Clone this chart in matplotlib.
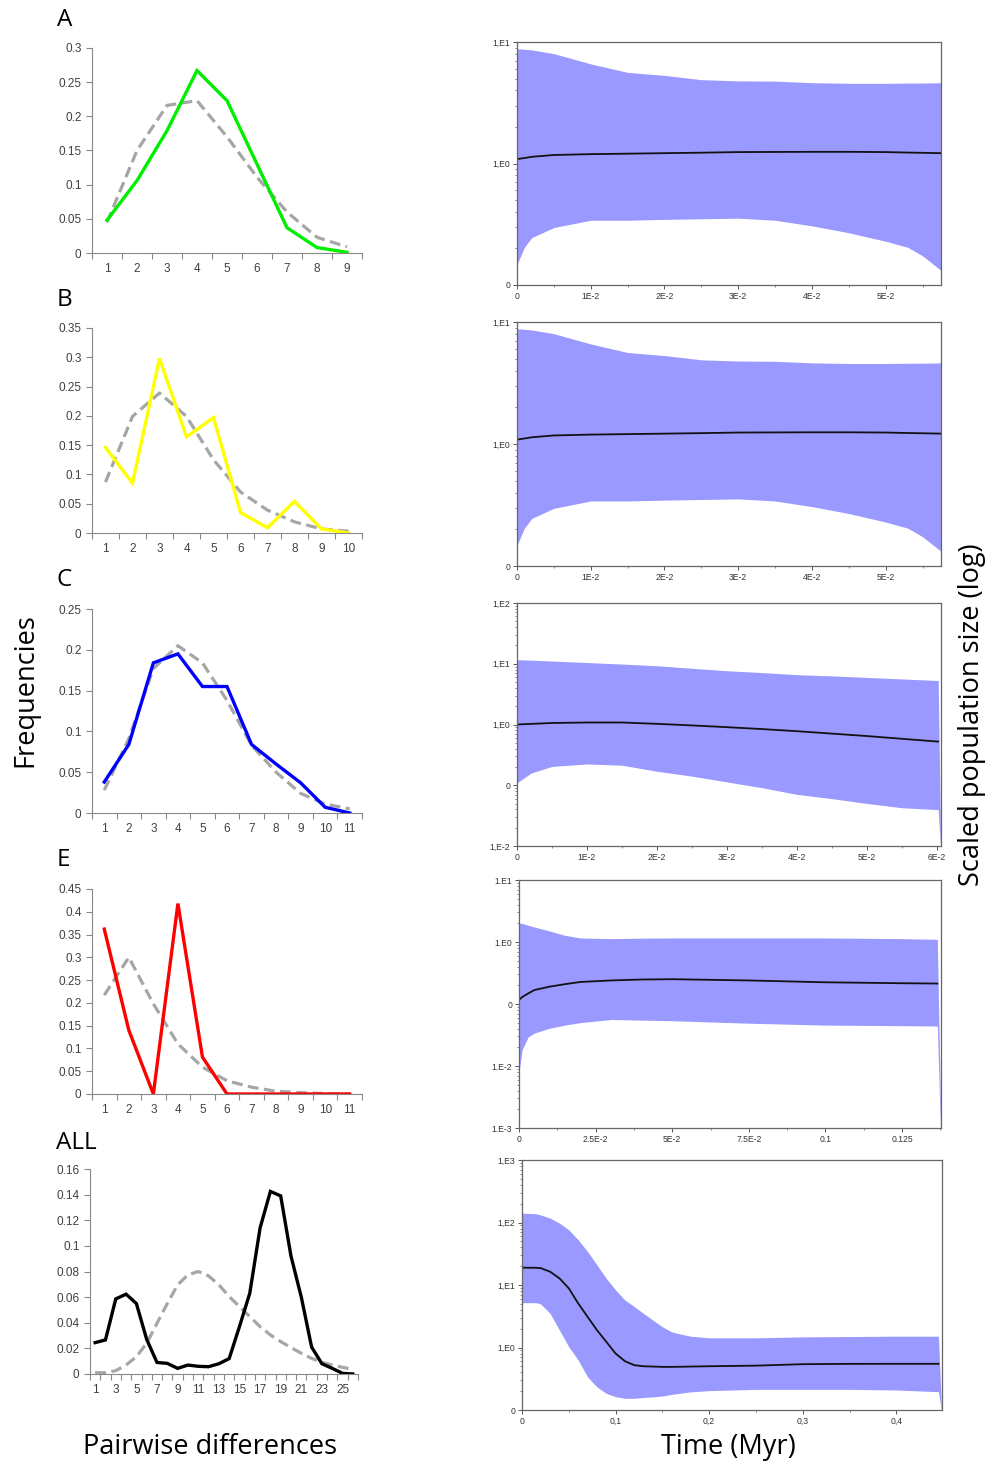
import numpy as np
import matplotlib
matplotlib.use("Agg")
import matplotlib.pyplot as plt

# ---- mismatch distributions (left column) ----
a_obs = [0.048, 0.106, 0.179, 0.267, 0.223, 0.13, 0.037, 0.008, 0.001]
a_exp = [0.045, 0.15, 0.216, 0.223, 0.17, 0.111, 0.06, 0.023, 0.009]

b_obs = [0.146, 0.085, 0.298, 0.164, 0.197, 0.035, 0.009, 0.054, 0.007, 0.0]
b_exp = [0.087, 0.199, 0.239, 0.199, 0.125, 0.07, 0.039, 0.019, 0.007, 0.003]

c_obs = [0.038, 0.084, 0.184, 0.195, 0.155, 0.155, 0.084, 0.06, 0.037, 0.007, 0.0]
c_exp = [0.028, 0.091, 0.177, 0.205, 0.184, 0.138, 0.083, 0.05, 0.024, 0.011, 0.005]

e_obs = [0.362, 0.14, 0.0, 0.418, 0.081, 0.0, 0.0, 0.0, 0.0, 0.0, 0.0]
e_exp = [0.217, 0.3, 0.198, 0.11, 0.059, 0.029, 0.015, 0.006, 0.003, 0.001, 0.0]

all_obs = [0.0245, 0.0266, 0.0586, 0.0623, 0.055, 0.027, 0.009, 0.0083, 0.0044, 0.007,
           0.006, 0.0057, 0.008, 0.012, 0.037, 0.063, 0.114, 0.1425, 0.139, 0.092,
           0.06, 0.021, 0.008, 0.0044, 0.0005, 0.0]
all_exp = [0.001, 0.001, 0.0026, 0.007, 0.0135, 0.024, 0.0396, 0.055, 0.0696, 0.0774,
           0.08, 0.0766, 0.0696, 0.0605, 0.0526, 0.0448, 0.037, 0.0305, 0.0253, 0.0206,
           0.0162, 0.0122, 0.0091, 0.007, 0.0052, 0.0036]

a_yticks = [0, 0.05, 0.1, 0.15, 0.2, 0.25, 0.3]
b_yticks = [0, 0.05, 0.1, 0.15, 0.2, 0.25, 0.3, 0.35]
c_yticks = [0, 0.05, 0.1, 0.15, 0.2, 0.25]
e_yticks = [0, 0.05, 0.1, 0.15, 0.2, 0.25, 0.3, 0.35, 0.4, 0.45]
all_yticks = [0, 0.02, 0.04, 0.06, 0.08, 0.1, 0.12, 0.14, 0.16]

# ---- Bayesian skyline plots (right column), log10 of population size ----
sa_t = [0, 0.001, 0.002, 0.005, 0.01, 0.015, 0.02, 0.025, 0.03, 0.035, 0.04, 0.045,
        0.05, 0.053, 0.055, 0.0575]
sa_med = [0.036, 0.045, 0.055, 0.07, 0.077, 0.081, 0.085, 0.089, 0.094, 0.095, 0.096,
          0.096, 0.094, 0.09, 0.088, 0.085]
sa_hi = [0.945, 0.94, 0.935, 0.904, 0.82, 0.75, 0.725, 0.69, 0.68, 0.678, 0.665, 0.66,
         0.66, 0.662, 0.662, 0.665]
sa_lo = [-0.83, -0.69, -0.61, -0.527, -0.467, -0.467, -0.46, -0.455, -0.45, -0.467,
         -0.513, -0.57, -0.64, -0.69, -0.76, -0.88]

# panel B skyline is the same run as A in the figure
sb_t, sb_med, sb_hi, sb_lo = sa_t, sa_med, sa_hi, sa_lo

sc_t = [0, 0.002, 0.005, 0.01, 0.015, 0.02, 0.025, 0.03, 0.035, 0.04, 0.045, 0.05,
        0.055, 0.06, 0.0602, 0.0605]
sc_med = [0, 0.01, 0.025, 0.033, 0.033, 0.011, -0.015, -0.044, -0.075, -0.11, -0.15,
          -0.19, -0.235, -0.28, -0.28, np.nan]
sc_hi = [1.066, 1.06, 1.045, 1.02, 0.995, 0.967, 0.925, 0.885, 0.855, 0.82, 0.8, 0.775,
         0.75, 0.725, 0.725, -1.6]
sc_lo = [-0.96, -0.8, -0.69, -0.65, -0.67, -0.77, -0.85, -0.945, -1.04, -1.15, -1.22,
         -1.3, -1.37, -1.4, -1.4, -2.0]

se_t = [0, 0.001, 0.003, 0.005, 0.01, 0.015, 0.02, 0.03, 0.04, 0.05, 0.075, 0.1, 0.125,
        0.1365, 0.1375]
se_med = [-0.935, -0.89, -0.83, -0.775, -0.72, -0.68, -0.645, -0.62, -0.605, -0.6, -0.62,
          -0.65, -0.665, -0.67, np.nan]
se_hi = [0.306, 0.3, 0.27, 0.242, 0.177, 0.108, 0.065, 0.054, 0.062, 0.065, 0.065, 0.065,
         0.054, 0.043, -2.6]
se_lo = [-2.1, -1.74, -1.53, -1.47, -1.39, -1.34, -1.3, -1.25, -1.26, -1.27, -1.31, -1.34,
         -1.35, -1.355, -3.0]

sall_t = [0, 0.015, 0.02, 0.03, 0.04, 0.05, 0.06, 0.07, 0.08, 0.09, 0.1, 0.11, 0.12, 0.13,
          0.14, 0.15, 0.16, 0.17, 0.18, 0.2, 0.25, 0.3, 0.35, 0.4, 0.445, 0.448]
sall_med = [1.277, 1.275, 1.27, 1.213, 1.107, 0.947, 0.707, 0.493, 0.28, 0.093, -0.096,
            -0.219, -0.283, -0.3, -0.305, -0.31, -0.31, -0.308, -0.305, -0.3, -0.29,
            -0.267, -0.262, -0.261, -0.261, np.nan]
sall_hi = [2.15, 2.14, 2.12, 2.07, 1.99, 1.883, 1.723, 1.536, 1.323, 1.107, 0.92, 0.76,
           0.653, 0.544, 0.437, 0.331, 0.25, 0.213, 0.181, 0.155, 0.155, 0.17, 0.175,
           0.181, 0.181, -0.9]
sall_lo = [0.717, 0.717, 0.696, 0.547, 0.28, 0.01, -0.2, -0.47, -0.63, -0.733, -0.787,
           -0.813, -0.813, -0.8, -0.79, -0.776, -0.75, -0.73, -0.71, -0.69, -0.67, -0.67,
           -0.67, -0.68, -0.707, -1.0]

sa_ylabels = ["0", "1,E0", "1,E1"]            # log10 -1..1
sc_ylabels = ["1,E-2", "0", "1,E0", "1,E1", "1,E2"]   # -2..2
se_ylabels = ["1.E-3", "1.E-2", "0", "1.E0", "1.E1"]  # -3..1
sall_ylabels = ["0", "1,E0", "1,E1", "1,E2", "1,E3"]  # -1..3

sa_xticks = [0, 0.01, 0.02, 0.03, 0.04, 0.05]
sa_xlabels = ["0", "1E-2", "2E-2", "3E-2", "4E-2", "5E-2"]
sc_xticks = [0, 0.01, 0.02, 0.03, 0.04, 0.05, 0.06]
sc_xlabels = ["0", "1E-2", "2E-2", "3E-2", "4E-2", "5E-2", "6E-2"]
se_xticks = [0, 0.025, 0.05, 0.075, 0.1, 0.125]
se_xlabels = ["0", "2.5E-2", "5E-2", "7.5E-2", "0.1", "0.125"]
sall_xticks = [0, 0.1, 0.2, 0.3, 0.4]
sall_xlabels = ["0", "0,1", "0,2", "0,3", "0,4"]

W, H = 989, 1463
fig = plt.figure(figsize=(W / 100, H / 100), dpi=100)


def box(x0, y0, x1, y1):
    """pixel box (top-left origin) -> figure fraction rect"""
    return [x0 / W, 1 - y1 / H, (x1 - x0) / W, (y1 - y0) / H]


def mismatch(rect, obs, exp, color, yticks, label_step=1, lw=2.4):
    ax = fig.add_axes(rect)
    n = len(obs)
    x = np.arange(1, n + 1)
    ax.plot(x, exp, color="#a6a6a6", lw=2.3, dashes=(3.4, 1.7), solid_capstyle="butt")
    ax.plot(x, obs, color=color, lw=lw, solid_joinstyle="miter")
    ax.set_xlim(0.5, n + 0.5)
    ax.set_ylim(0, yticks[-1])
    ax.set_yticks(yticks)
    ax.set_yticklabels([f"{v:g}" for v in yticks])
    ax.set_xticks(x[::label_step])
    ax.set_xticklabels([str(v) for v in x[::label_step]])
    ax.set_xticks(np.arange(0.5, n + 1), minor=True)
    ax.tick_params(axis="x", which="major", length=0, pad=7)
    ax.tick_params(axis="x", which="minor", length=4, width=0.8, color="#888888", direction="out")
    ax.tick_params(axis="y", length=4, width=0.8, color="#888888", direction="out")
    ax.tick_params(labelsize=8.5, labelcolor="#404040")
    for s in ["top", "right"]:
        ax.spines[s].set_visible(False)
    for s in ["left", "bottom"]:
        ax.spines[s].set_color("#888888")
        ax.spines[s].set_linewidth(0.8)
    for lab in ax.get_xticklabels() + ax.get_yticklabels():
        lab.set_family("Liberation Sans")
    return ax


def skyline(rect, t, med, hi, lo, ylo, yhi, ylabels, xticks, xlabels, xmax, xminor):
    ax = fig.add_axes(rect)
    ax.fill_between(t, lo, hi, color="#9999ff", lw=0)
    ax.plot(t, med, color="#111111", lw=1.3)
    ax.set_xlim(0, xmax)
    ax.set_ylim(ylo, yhi)
    ax.set_yticks(np.arange(ylo, yhi + 1))
    ax.set_yticklabels(ylabels)
    minors = [d + np.log10(k) for d in range(ylo, yhi) for k in range(2, 10)]
    ax.set_yticks(minors, minor=True)
    ax.set_xticks(xticks)
    ax.set_xticklabels(xlabels)
    ax.set_xticks(np.arange(0, xmax, xminor), minor=True)
    ax.tick_params(which="major", length=3, width=0.7, labelsize=6.2, labelcolor="#333333",
                   color="#555555", pad=2)
    ax.tick_params(which="minor", length=1.6, width=0.5, color="#555555")
    for s in ax.spines.values():
        s.set_color("#666666")
        s.set_linewidth(0.9)
    for lab in ax.get_xticklabels() + ax.get_yticklabels():
        lab.set_family("Liberation Sans")
    return ax


mismatch(box(92, 48, 362, 253), a_obs, a_exp, "#00ee00", a_yticks)
mismatch(box(92, 328, 362, 533), b_obs, b_exp, "#ffff00", b_yticks)
mismatch(box(92, 609, 362, 813), c_obs, c_exp, "#0000ff", c_yticks)
mismatch(box(92, 889, 362, 1094), e_obs, e_exp, "#ff0000", e_yticks)
mismatch(box(90, 1169, 358, 1374), all_obs, all_exp, "#000000", all_yticks, label_step=2)

skyline(box(517, 42, 941, 285), sa_t, sa_med, sa_hi, sa_lo, -1, 1, sa_ylabels,
        sa_xticks, sa_xlabels, 0.0575, 0.005)
skyline(box(517, 322, 941, 566), sb_t, sb_med, sb_hi, sb_lo, -1, 1, sa_ylabels,
        sa_xticks, sa_xlabels, 0.0575, 0.005)
skyline(box(517, 603, 941, 846), sc_t, sc_med, sc_hi, sc_lo, -2, 2, sc_ylabels,
        sc_xticks, sc_xlabels, 0.0606, 0.005)
skyline(box(519, 880, 941, 1128), se_t, se_med, se_hi, se_lo, -3, 1, se_ylabels,
        se_xticks, se_xlabels, 0.1377, 0.0125)
skyline(box(522, 1160, 942, 1410), sall_t, sall_med, sall_hi, sall_lo, -1, 3, sall_ylabels,
        sall_xticks, sall_xlabels, 0.4488, 0.05)

font = "Open Sans"
for txt, x, y in [("A", 57, 20), ("B", 57, 300), ("C", 57, 580), ("E", 57, 860), ("ALL", 56, 1143)]:
    fig.text(x / W, 1 - y / H, txt, fontsize=17.5, family=font, ha="left", va="center")

fig.text(25 / W, 1 - 690 / H, "Frequencies", rotation=90, fontsize=19.5, family=font,
         ha="center", va="center")
fig.text(210 / W, 1 - 1447 / H, "Pairwise differences", fontsize=19.5, family=font,
         ha="center", va="center")
fig.text(728 / W, 1 - 1447 / H, "Time (Myr)", fontsize=19.5, family=font,
         ha="center", va="center")
fig.text(972 / W, 1 - 715 / H, "Scaled population size (log)", rotation=90, fontsize=19.5,
         family=font, ha="center", va="center")

fig.savefig("out.png", dpi=100)
